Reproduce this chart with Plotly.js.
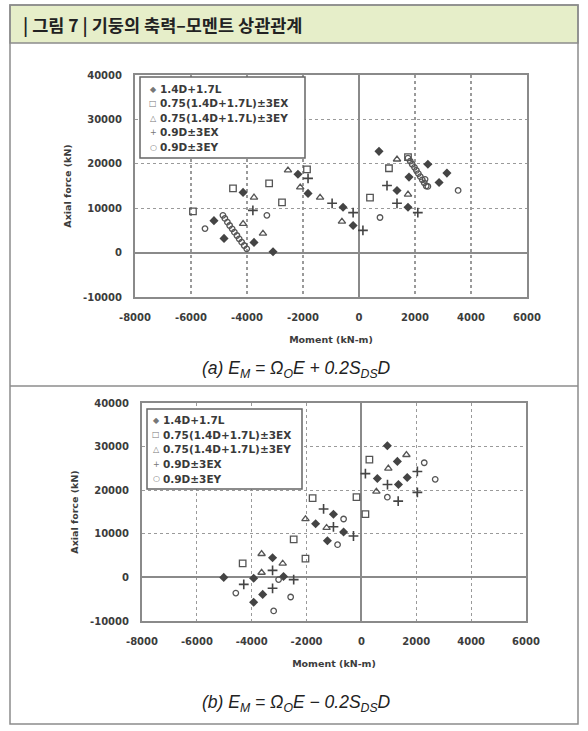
<!DOCTYPE html>
<html><head><meta charset="utf-8">
<script src="https://cdn.plot.ly/plotly-3.0.1.min.js"></script>
<style>html,body{margin:0;padding:0;background:#fff;} #chart{width:588px;height:731px;}</style>
</head><body><div id="chart"></div>
<script>
// ---- data ----
const seriesNames = ['1.4D+1.7L','0.75(1.4D+1.7L)±3EX','0.75(1.4D+1.7L)±3EY','0.9D±3EX','0.9D±3EY'];
const legendGlyphs = ['◆','□','△','+','○'];
const xTickVals = [-8000,-6000,-4000,-2000,0,2000,4000,6000];
const xTickText = ['-8000','-6000','-4000','-2000','0','2000','4000','6000'];
const yTickVals = [-10000,0,10000,20000,30000,40000];
const yTickText = ['-10000','0','10000','20000','30000','40000'];

// Panel (a): E_M = ΩoE + 0.2SdsD
const a1x = [-2180,-4140,-1820,714,2460,1786,3140,2860,1357,1750,-570,-210,-5180,-4820,-3750,-3070];
const a1y = [17630,13560,13330,22800,19900,17000,17900,15800,14000,10200,10200,6100,7200,3200,2300,200];
const a2x = [-1857,-4500,-3210,1750,1070,393,-5930,-2750];
const a2y = [18760,14460,15600,21500,19000,12400,9270,11300];
const a3x = [-2536,-2100,1357,-1390,-610,-3430,1750,-3750,-4140];
const a3y = [18530,14700,21000,12400,7000,4300,13100,12430,6500];
const a4x = [-1820,1000,1357,-210,-3790,2100,140,-960];
const a4y = [16720,15100,11100,9000,9500,9000,5000,11100];
const a5x = [2360,3540,750,-5500,-3290,
  -4860,-4790,-4700,-4620,-4530,-4450,-4360,-4280,-4190,-4100,-4010,
  1750,1830,1900,1980,2050,2120,2190,2260,2330,2400,2460];
const a5y = [16500,14000,7900,5400,8400,
  8400,7700,6850,6100,5350,4600,3850,3100,2350,1600,850,
  21300,20600,19900,19200,18500,17800,17100,16400,15700,15000,14900];

// Panel (b): E_M = ΩoE - 0.2SdsD
const b1x = [945,1310,580,1670,1350,-1020,-1670,-650,-1240,-3240,-2840,-3930,-5020,-3600,-3930];
const b1y = [30200,26600,22700,22900,21300,14500,12300,10400,8400,4500,200,-200,0,-3900,-5700];
const b2x = [-180,145,-1780,-2470,-4330,290,-2040];
const b2y = [18400,14500,18200,8700,3200,27000,4300];
const b3x = [1640,980,-2040,-3640,-3640,-2870,545,-1270];
const b3y = [28100,25000,13400,5400,1100,3200,19700,11400];
const b4x = [2040,950,2040,1340,-1380,-1020,-4290,-3240,145,-290,-3240,-2470];
const b4y = [24300,21300,19500,17500,15700,11600,-1600,-2500,23800,9500,1600,-500];
const b5x = [2290,2690,-650,-870,-4580,-2580,-3200,-3020,945];
const b5y = [26300,22500,13400,7500,-3600,-4500,-7700,-500,18400];

// ---- styling ----
const W = 588, H = 731;
const px = v => v / W, py = v => 1 - v / H;
const mk = [
  {symbol:'diamond', size:7, color:'#444', line:{width:0}},
  {symbol:'square-open', size:6.5, color:'#555', line:{width:1.3}},
  {symbol:'triangle-up-open', size:6.5, color:'#555', line:{width:1.3}},
  {symbol:'cross-thin-open', size:7, color:'#444', line:{width:1.6}},
  {symbol:'circle-open', size:5.5, color:'#555', line:{width:1.3}}
];
function tr(x, y, i, xa, ya) {
  return {type:'scatter', mode:'markers', x:x, y:y, name:seriesNames[i], marker:mk[i],
          xaxis:xa, yaxis:ya, showlegend:false, hoverinfo:'x+y+name'};
}
const traces = [
  tr(a1x,a1y,0,'x','y'), tr(a2x,a2y,1,'x','y'), tr(a3x,a3y,2,'x','y'), tr(a4x,a4y,3,'x','y'), tr(a5x,a5y,4,'x','y'),
  tr(b1x,b1y,0,'x2','y2'), tr(b2x,b2y,1,'x2','y2'), tr(b3x,b3y,2,'x2','y2'), tr(b4x,b4y,3,'x2','y2'), tr(b5x,b5y,4,'x2','y2')
];

const tickFont = {family:'DejaVu Sans, sans-serif', size:10, color:'#3c3c3c', weight:'bold'};
const titleFont = {family:'DejaVu Sans, sans-serif', size:9.5, color:'#3c3c3c', weight:'bold'};
function xAxis(dom, anchor) {
  return {domain:dom, anchor:anchor, range:[-8000,6000], tickvals:xTickVals, ticktext:xTickText,
    showline:true, mirror:true, linecolor:'#8a8a8a', linewidth:2, ticks:'',
    showgrid:true, gridcolor:'#9a9a9a', griddash:'dot', gridwidth:1.2,
    zeroline:true, zerolinecolor:'#8a8a8a', zerolinewidth:2,
    tickfont:tickFont, ticklabelstandoff:10, fixedrange:true,
    title:{text:'Moment (kN-m)', font:titleFont, standoff:14}};
}
function yAxis(dom, anchor) {
  return {domain:dom, anchor:anchor, range:[-10000,40000], tickvals:yTickVals, ticktext:yTickText,
    showline:true, mirror:true, linecolor:'#8a8a8a', linewidth:2, ticks:'',
    showgrid:true, gridcolor:'#9a9a9a', griddash:'dot', gridwidth:1.2,
    zeroline:true, zerolinecolor:'#8a8a8a', zerolinewidth:2,
    tickfont:tickFont, ticklabelstandoff:9, fixedrange:true,
    title:{text:'Axial force (kN)', font:titleFont, standoff:10}};
}

const shapes = [
  {type:'rect', xref:'paper', yref:'paper', x0:px(10), x1:px(578), y0:py(43), y1:py(5),
   fillcolor:'#e6eec9', line:{color:'#8c8c8c', width:1.5}, layer:'below'},
  {type:'rect', xref:'paper', yref:'paper', x0:px(10), x1:px(578), y0:py(724), y1:py(5),
   fillcolor:'rgba(0,0,0,0)', line:{color:'#8c8c8c', width:1.5}},
  {type:'line', xref:'paper', yref:'paper', x0:px(10), x1:px(578), y0:py(386), y1:py(386),
   line:{color:'#8c8c8c', width:1.5}},
  // legend boxes
  {type:'rect', xref:'paper', yref:'paper', x0:px(140), x1:px(305), y0:py(158), y1:py(77),
   fillcolor:'#fff', line:{color:'#666', width:1.5}},
  {type:'rect', xref:'paper', yref:'paper', x0:px(147), x1:px(302), y0:py(489), y1:py(409),
   fillcolor:'#fff', line:{color:'#666', width:1.5}}
];

const legFont = {family:'DejaVu Sans, sans-serif', size:10.5, color:'#3a3a3a', weight:'bold'};
const glyphFont = {family:'DejaVu Sans, sans-serif', size:8, color:'#777'};
const annotations = [
  {xref:'paper', yref:'paper', x:px(21), y:py(24), xanchor:'left', yanchor:'middle', showarrow:false,
   text:'| 그림 7 | 기둥의 축력–모멘트 상관관계',
   font:{family:'Noto Sans CJK KR, sans-serif', size:17.5, color:'#222', weight:'bold'}},
  {xref:'paper', yref:'paper', x:px(296), y:py(369), xanchor:'center', yanchor:'middle', showarrow:false,
   text:'<i>(a) E<sub>M</sub> = Ω<sub>O</sub>E + 0.2S<sub>DS</sub>D</i>',
   font:{family:'Liberation Sans, Arial, sans-serif', size:17.5, color:'#222'}},
  {xref:'paper', yref:'paper', x:px(296), y:py(703), xanchor:'center', yanchor:'middle', showarrow:false,
   text:'<i>(b) E<sub>M</sub> = Ω<sub>O</sub>E − 0.2S<sub>DS</sub>D</i>',
   font:{family:'Liberation Sans, Arial, sans-serif', size:17.5, color:'#222'}}
];
const legRowsA = [89,103.5,118,132.5,147];
const legRowsB = [420,434.5,449,464,478.5];
seriesNames.forEach((n,i) => {
  annotations.push({xref:'paper', yref:'paper', x:px(153), y:py(legRowsA[i]), xanchor:'center', yanchor:'middle',
    showarrow:false, text:legendGlyphs[i], font:glyphFont});
  annotations.push({xref:'paper', yref:'paper', x:px(158), y:py(legRowsA[i]), xanchor:'left', yanchor:'middle',
    showarrow:false, text:n, font:legFont});
  annotations.push({xref:'paper', yref:'paper', x:px(156), y:py(legRowsB[i]), xanchor:'center', yanchor:'middle',
    showarrow:false, text:legendGlyphs[i], font:glyphFont});
  annotations.push({xref:'paper', yref:'paper', x:px(161), y:py(legRowsB[i]), xanchor:'left', yanchor:'middle',
    showarrow:false, text:n, font:legFont});
});

const layout = {
  width:W, height:H, margin:{l:0,r:0,t:0,b:0}, paper_bgcolor:'#fff', plot_bgcolor:'#fff',
  showlegend:false,
  xaxis: xAxis([px(135), px(527)], 'y'),
  yaxis: yAxis([py(297), py(75)], 'x'),
  xaxis2: xAxis([px(142), px(526)], 'y2'),
  yaxis2: yAxis([py(621), py(403)], 'x2'),
  shapes:shapes, annotations:annotations
};
Plotly.newPlot('chart', traces, layout, {displayModeBar:false, staticPlot:true});
</script></body></html>
